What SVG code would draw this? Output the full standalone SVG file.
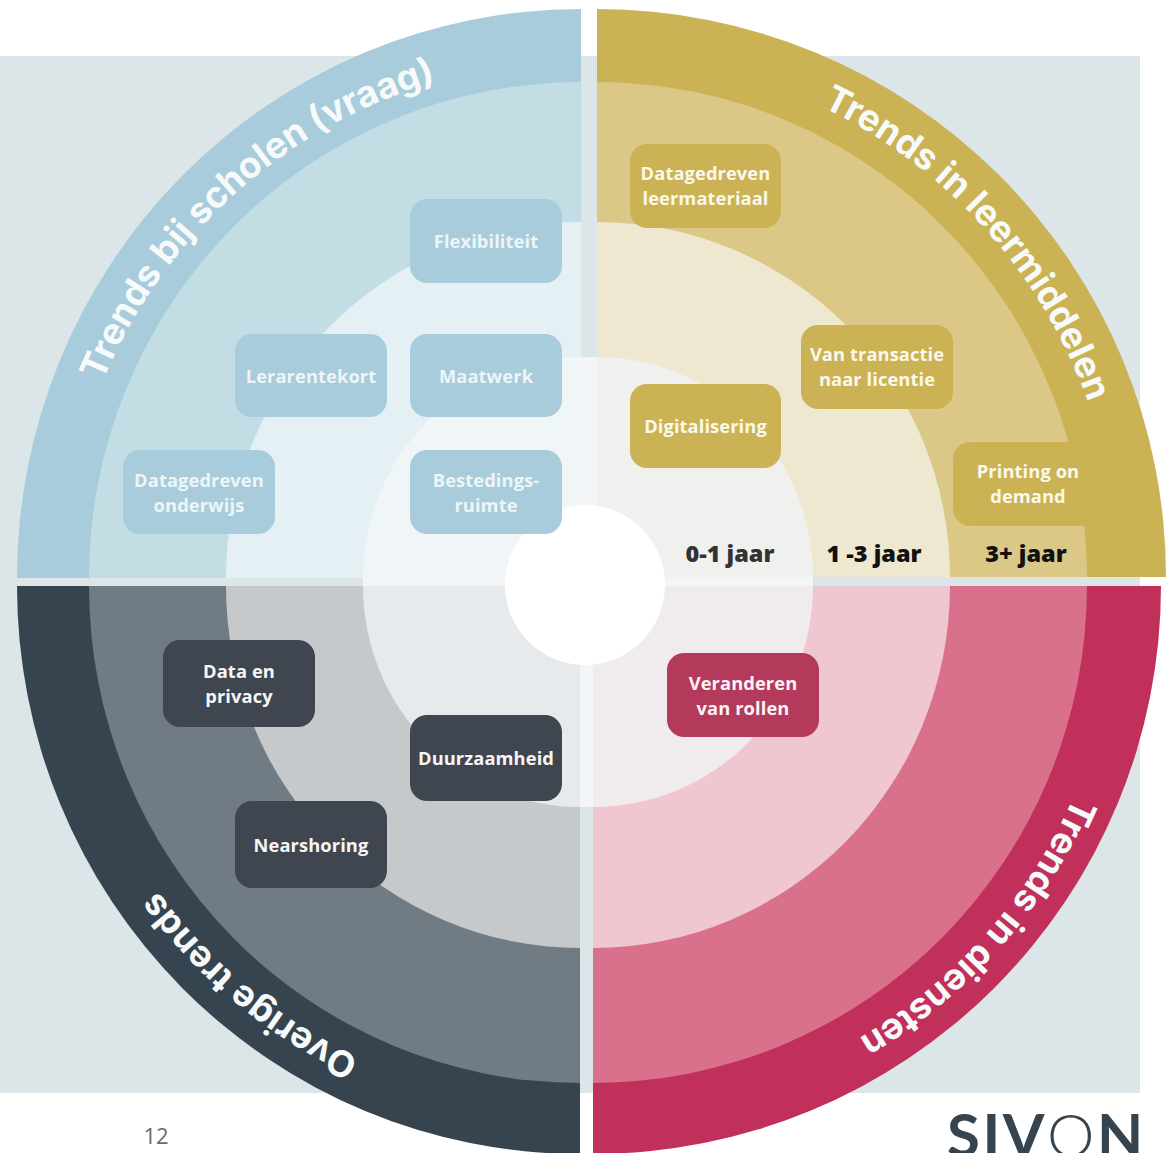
<svg xmlns="http://www.w3.org/2000/svg" width="1176" height="1153" viewBox="0 0 1176 1153">
<style>
.nb{font:700 18.3px "Open Sans","Noto Sans",sans-serif;text-anchor:middle;letter-spacing:.1px}
.t{font:700 36.500px Inter,"Open Sans",sans-serif;fill:#f7fafa;text-anchor:middle}
.y{font:800 23.500px "Open Sans",sans-serif;text-anchor:middle;fill:#111}
.blue rect{fill:#a8ccdb}.blue text{fill:#edf5f7}
.gold rect{fill:#cbb254}.gold text{fill:#fbf8ec}
.red rect{fill:#b33a5b}.red text{fill:#fdf3f5}
.dark rect{fill:#40464f}.dark text{fill:#f6f6f6}
</style>
<defs>
<clipPath id="cTL"><rect x="0" y="0" width="581" height="578"/></clipPath>
<clipPath id="cTR"><rect x="597" y="0" width="579" height="577"/></clipPath>
<clipPath id="cBR"><rect x="593" y="586" width="583" height="567"/></clipPath>
<clipPath id="cBL"><rect x="0" y="586" width="580" height="567"/></clipPath>
<path id="aTL" d="M142 852.5A518 518 0 0 1 900 170"/>
<path id="aTR" d="M321 135A521 521 0 0 1 1007.500 897.800"/>
<path id="aBR" d="M1004.600 260A525 525 0 0 1 318 1033"/>
<path id="aBL" d="M917.600 982.700A521 521 0 0 1 127 328.600"/>
</defs>
<rect width="1176" height="1153" fill="#fff"/>
<rect x="0" y="56" width="1140" height="1037" fill="#dce6e8"/>
<ellipse cx="588" cy="582" rx="225" ry="225" fill="#f3f5f7"/>
<g id="quadrant-scholen" clip-path="url(#cTL)">
<ellipse cx="581" cy="578" rx="564" ry="569" fill="#a8ccdb"/>
<ellipse cx="581" cy="578" rx="492" ry="496" fill="#c3dde4"/>
<ellipse cx="581" cy="578" rx="355" ry="356" fill="#e4f0f3"/>
<ellipse cx="581" cy="578" rx="218" ry="221" fill="#f0f5f7"/>
</g>
<g id="quadrant-leermiddelen" clip-path="url(#cTR)">
<ellipse cx="597" cy="577" rx="569" ry="568" fill="#cbb254"/>
<ellipse cx="597" cy="577" rx="490" ry="495" fill="#dbc886"/>
<ellipse cx="597" cy="577" rx="353" ry="355" fill="#efe8d0"/>
<ellipse cx="597" cy="577" rx="216" ry="220" fill="#f0f0ee"/>
</g>
<g id="quadrant-diensten" clip-path="url(#cBR)">
<ellipse cx="593" cy="586" rx="568" ry="568" fill="#c1305a"/>
<ellipse cx="593" cy="586" rx="494" ry="497" fill="#d9708c"/>
<ellipse cx="593" cy="586" rx="357" ry="362" fill="#f0c6d0"/>
<ellipse cx="593" cy="586" rx="220" ry="221" fill="#f0eced"/>
</g>
<g id="quadrant-overig" clip-path="url(#cBL)">
<ellipse cx="580" cy="586" rx="563" ry="568" fill="#36444f"/>
<ellipse cx="580" cy="586" rx="491" ry="497" fill="#707b83"/>
<ellipse cx="580" cy="586" rx="354" ry="362" fill="#c5c9cc"/>
<ellipse cx="580" cy="586" rx="217" ry="221" fill="#e6eaed"/>
</g>
<circle id="centre" cx="585" cy="585" r="80" fill="#fff"/>
<g id="titles">
<text class="t"><textPath href="#aTL" startOffset="50%">Trends bij scholen (vraag)</textPath></text>
<text class="t"><textPath href="#aTR" startOffset="50%">Trends in leermiddelen</textPath></text>
<text class="t"><textPath href="#aBR" startOffset="50%">Trends in diensten</textPath></text>
<text class="t"><textPath href="#aBL" startOffset="50%">Overige trends</textPath></text>
</g>
<g id="n-flex" class="blue"><rect x="410" y="199" width="152" height="84" rx="17"/><text class="nb" x="486" y="248">Flexibiliteit</text></g>
<g id="n-leraren" class="blue"><rect x="235" y="334" width="152" height="83" rx="17"/><text class="nb" x="311" y="383">Lerarentekort</text></g>
<g id="n-maatwerk" class="blue"><rect x="410" y="334" width="152" height="83" rx="17"/><text class="nb" x="486" y="383">Maatwerk</text></g>
<g id="n-onderwijs" class="blue"><rect x="123" y="450" width="152" height="84" rx="17"/><text class="nb" x="199" y="487">Datagedreven</text><text class="nb" x="199" y="512">onderwijs</text></g>
<g id="n-bestedings" class="blue"><rect x="410" y="450" width="152" height="84" rx="17"/><text class="nb" x="486" y="487">Bestedings-</text><text class="nb" x="486" y="512">ruimte</text></g>
<g id="n-leermateriaal" class="gold"><rect x="630" y="144" width="151" height="84" rx="17"/><text class="nb" x="705.500" y="180">Datagedreven</text><text class="nb" x="705.500" y="205">leermateriaal</text></g>
<g id="n-licentie" class="gold"><rect x="801" y="325" width="152" height="84" rx="17"/><text class="nb" x="877" y="361">Van transactie</text><text class="nb" x="877" y="386">naar licentie</text></g>
<g id="n-digitalisering" class="gold"><rect x="630" y="384" width="151" height="84" rx="17"/><text class="nb" x="705.500" y="433">Digitalisering</text></g>
<g id="n-printing" class="gold"><rect x="953" y="442" width="152" height="84" rx="17"/><text class="nb" x="1028" y="478">Printing on</text><text class="nb" x="1028" y="503">demand</text></g>
<g id="n-rollen" class="red"><rect x="667" y="653" width="152" height="84" rx="17"/><text class="nb" x="743" y="690">Veranderen</text><text class="nb" x="743" y="715">van rollen</text></g>
<g id="n-privacy" class="dark"><rect x="163" y="640" width="152" height="87" rx="17"/><text class="nb" x="239" y="678">Data en</text><text class="nb" x="239" y="703">privacy</text></g>
<g id="n-duurzaamheid" class="dark"><rect x="410" y="715" width="152" height="86" rx="17"/><text class="nb" x="486" y="765">Duurzaamheid</text></g>
<g id="n-nearshoring" class="dark"><rect x="235" y="801" width="152" height="87" rx="17"/><text class="nb" x="311" y="852">Nearshoring</text></g>
<g id="years">
<text class="y" x="730" y="562" style="fill:#333">0-1 jaar</text>
<text class="y" x="874" y="562">1 -3 jaar</text>
<text class="y" x="1026" y="562">3+ jaar</text>
</g>
<text id="pagenr" x="156" y="1144" font-family="Open Sans,sans-serif" font-size="22" fill="#6b6b6b" text-anchor="middle">12</text>
<text id="logo" x="947" y="1157" font-family="Lato,sans-serif" font-size="60" font-weight="700" fill="#36444f" letter-spacing="2.500">SIV<tspan font-weight="300">O</tspan>N</text>
</svg>
